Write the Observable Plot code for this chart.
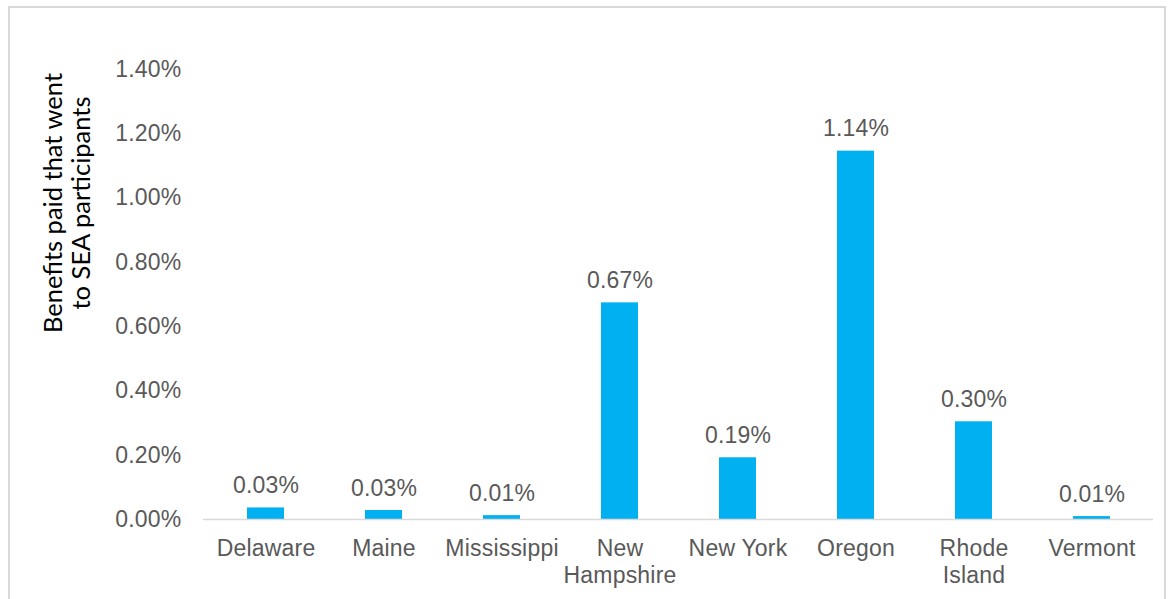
<!DOCTYPE html>
<html>
<head>
<meta charset="utf-8">
<script src="https://cdn.jsdelivr.net/npm/d3@7"></script>
<script src="https://cdn.jsdelivr.net/npm/@observablehq/plot@0.6"></script>
<style>
  html, body { margin: 0; padding: 0; background: #fff; overflow: hidden; }
  #wrap { position: relative; width: 1169px; height: 599px; }
  #border { position: absolute; left: 8px; top: 6px; width: 1158px; height: 620px; box-sizing: border-box; border: 2px solid #d9d9d9; }
  #chart { position: absolute; left: 0; top: 0; }
</style>
</head>
<body>
<div id="wrap"><div id="border"></div><div id="chart"></div></div>
<script>
const states = ["Delaware", "Maine", "Mississippi", "New Hampshire", "New York", "Oregon", "Rhode Island", "Vermont"];
const tickLabels = ["Delaware", "Maine", "Mississippi", "New\nHampshire", "New York", "Oregon", "Rhode\nIsland", "Vermont"];
const values = [0.036, 0.028, 0.012, 0.674, 0.192, 1.146, 0.304, 0.009];
const valueLabels = ["0.03%", "0.03%", "0.01%", "0.67%", "0.19%", "1.14%", "0.30%", "0.01%"];
const yTicks = [0, 0.2, 0.4, 0.6, 0.8, 1.0, 1.2, 1.4];
const yTitle = ["Benefits paid that went", "to SEA participants"];

const data = states.map((s, i) => ({state: s, value: values[i], label: valueLabels[i]}));
const tickMap = new Map(states.map((s, i) => [s, tickLabels[i]]));

const plot = Plot.plot({
  width: 1169,
  height: 599,
  marginLeft: 203,
  marginRight: 16,
  marginTop: 69,
  marginBottom: 80,
  style: {fontFamily: "'Liberation Sans', Arial, sans-serif", fontSize: "23px", color: "#595959", background: "transparent", overflow: "visible"},
  x: {domain: states, paddingInner: 0.69, paddingOuter: 0.345, label: null},
  y: {domain: [0, 1.4], label: null},
  marks: [
    Plot.axisY({ticks: yTicks, tickSize: 0, tickPadding: 22, tickFormat: d => d.toFixed(2) + "%", label: null}),
    Plot.axisX({tickSize: 0, tickPadding: 17, lineHeight: 1.17, tickFormat: d => tickMap.get(d), label: null}),
    Plot.barY(data, {x: "state", y: "value", fill: "#00B0F0"}),
    Plot.ruleY([0], {stroke: "#d9d9d9", strokeWidth: 1.5}),
    Plot.text(data, {x: "state", y: "value", text: "label", dy: -15, lineAnchor: "bottom", fill: "#595959"})
  ]
});

const svg = d3.select(plot);
svg.selectAll("text").style("letter-spacing", "0.2px");
const t = svg.append("text")
  .attr("transform", "translate(62,203) rotate(-90)")
  .attr("text-anchor", "middle")
  .attr("fill", "#000")
  .style("font-family", "Lato, 'Open Sans', sans-serif")
  .style("font-size", "25.5px");
yTitle.forEach((line, i) => {
  t.append("tspan").attr("x", 0).attr("y", i * 28).text(line);
});

document.getElementById("chart").appendChild(plot);
</script>
</body>
</html>
